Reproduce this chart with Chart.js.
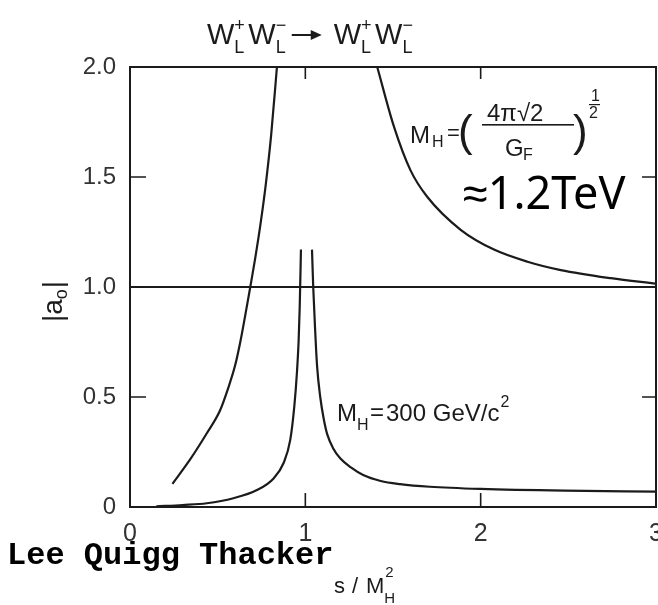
<!DOCTYPE html>
<html>
<head>
<meta charset="utf-8">
<script src="https://cdn.jsdelivr.net/npm/chart.js@4.4.1/dist/chart.umd.min.js"></script>
<style>
  html, body { margin: 0; padding: 0; background: #fff; }
  #wrap { width: 658px; height: 605px; }
</style>
</head>
<body>
<div id="wrap"><canvas id="chart" width="658" height="605"></canvas></div>
<script>
// Tick values
const xTicks = [0, 1, 2, 3];
const yTicks = [0, 0.5, 1.0, 1.5, 2.0];

// M_H = 1.2 TeV curve, below and above the pole
const bigLeftS = [0.242, 0.343, 0.438, 0.514, 0.562, 0.60, 0.629, 0.657, 0.686, 0.714, 0.745, 0.775, 0.805, 0.838];
const bigLeftA = [0.105, 0.216, 0.335, 0.44, 0.545, 0.645, 0.75, 0.87, 1.00, 1.13, 1.29, 1.47, 1.69, 2.00];
const bigRightS = [1.41, 1.505, 1.60, 1.695, 1.886, 2.076, 2.267, 2.457, 2.743, 3.0];
const bigRightA = [2.00, 1.73, 1.53, 1.41, 1.26, 1.17, 1.115, 1.077, 1.04, 1.015];

// M_H = 300 GeV curve, below and above the pole
const smallLeftS = [0.15, 0.30, 0.438, 0.59, 0.724, 0.819, 0.876, 0.914, 0.937, 0.952, 0.962, 0.968, 0.975];
const smallLeftA = [0.003, 0.009, 0.017, 0.04, 0.077, 0.13, 0.20, 0.305, 0.456, 0.61, 0.76, 0.91, 1.17];
const smallRightS = [1.038, 1.045, 1.055, 1.067, 1.085, 1.105, 1.125, 1.16, 1.20, 1.26, 1.33, 1.43, 1.54, 1.71, 2.0, 2.48, 3.0];
const smallRightA = [1.17, 1.00, 0.82, 0.64, 0.50, 0.40, 0.33, 0.265, 0.22, 0.18, 0.145, 0.118, 0.104, 0.092, 0.082, 0.074, 0.07];

// unitarity bound |a0| = 1
const boundS = [0, 3];
const boundA = [1, 1];

const INK = "#1b1b1b";
const AXIS_FONT = "'Liberation Sans', Arial, sans-serif";

function pts(xs, ys) {
    return xs.map((x, i) => ({ x: x, y: ys[i] }));
}

function curve(xs, ys) {
    return {
        data: pts(xs, ys),
        borderColor: INK,
        borderWidth: 2.2,
        pointRadius: 0,
        fill: false,
        cubicInterpolationMode: "monotone"
    };
}

const framePlugin = {
    id: "frame",
    afterDatasetsDraw(chart) {
        const ctx = chart.ctx;
        const a = chart.chartArea;
        const xs = chart.scales.x;
        const ys = chart.scales.y;
        ctx.save();
        ctx.strokeStyle = INK;
        ctx.lineWidth = 2;
        ctx.strokeRect(a.left, a.top, a.right - a.left, a.bottom - a.top);

        // inward tick marks
        ctx.lineWidth = 1.6;
        ctx.beginPath();
        xTicks.slice(1, -1).forEach(v => {
            const px = xs.getPixelForValue(v);
            ctx.moveTo(px, a.bottom); ctx.lineTo(px, a.bottom - 14);
            ctx.moveTo(px, a.top); ctx.lineTo(px, a.top + 12);
        });
        yTicks.slice(1, -1).forEach(v => {
            const py = ys.getPixelForValue(v);
            ctx.moveTo(a.left, py); ctx.lineTo(a.left + 16, py);
            ctx.moveTo(a.right, py); ctx.lineTo(a.right - 14, py);
        });
        ctx.stroke();
        ctx.restore();
    },
    afterDraw(chart) {
        const ctx = chart.ctx;
        ctx.save();
        ctx.fillStyle = INK;
        ctx.textBaseline = "alphabetic";
        ctx.textAlign = "left";

        // title: W_L^+ W_L^- -> W_L^+ W_L^-
        ctx.font = "29px " + AXIS_FONT;
        const wW = ctx.measureText("W").width;
        const drawWL = (x, y, sign) => {
            ctx.font = "29px " + AXIS_FONT;
            ctx.fillText("W", x, y);
            ctx.font = "18px " + AXIS_FONT;
            ctx.fillText(sign, x + wW, y - 13);
            ctx.fillText("L", x + wW, y + 9);
            return x + wW + 14;
        };
        let tx = 207;
        tx = drawWL(tx, 44, "+");
        tx = drawWL(tx, 44, "\u2212");
        ctx.fillRect(tx + 2, 34, 22, 2);
        ctx.beginPath();
        ctx.moveTo(tx + 32, 35); ctx.lineTo(tx + 21, 30); ctx.lineTo(tx + 21, 40); ctx.closePath();
        ctx.fill();
        tx += 44;
        tx = drawWL(tx, 44, "+");
        drawWL(tx, 44, "\u2212");

        // y axis title |a0|, rotated
        ctx.save();
        ctx.translate(62, 300);
        ctx.rotate(-Math.PI / 2);
        ctx.font = "28px " + AXIS_FONT;
        ctx.fillText("|a", -22, 0);
        const aw = ctx.measureText("|a").width;
        ctx.font = "18px " + AXIS_FONT;
        ctx.fillText("o", -22 + aw, 5);
        const ow = ctx.measureText("o").width;
        ctx.font = "28px " + AXIS_FONT;
        ctx.fillText("|", -22 + aw + ow + 1, 0);
        ctx.restore();

        // x axis title s/M_H^2
        ctx.font = "22px " + AXIS_FONT;
        ctx.fillText("s", 334, 593);
        ctx.fillText("/", 352, 593);
        ctx.fillText("M", 366, 593);
        const mw = ctx.measureText("M").width;
        ctx.font = "15px " + AXIS_FONT;
        ctx.fillText("2", 366 + mw + 1, 577);
        ctx.fillText("H", 366 + mw, 603);

        // M_H formula
        ctx.font = "24px " + AXIS_FONT;
        ctx.fillText("M", 410, 143);
        ctx.font = "16px " + AXIS_FONT;
        ctx.fillText("H", 432, 147);
        ctx.font = "22px " + AXIS_FONT;
        ctx.fillText("=", 447, 140);
        ctx.font = "44px " + AXIS_FONT;
        ctx.fillText("(", 458, 146);
        ctx.fillText(")", 573, 146);
        ctx.font = "24px " + AXIS_FONT;
        ctx.fillText("4\u03c0\u221a2", 487, 121);
        ctx.fillRect(482, 124, 92, 1.6);
        ctx.fillText("G", 505, 156);
        ctx.font = "16px " + AXIS_FONT;
        ctx.fillText("F", 523, 160);
        ctx.fillText("1", 591, 101);
        ctx.fillRect(589, 104, 11, 1.2);
        ctx.fillText("2", 589, 118);

        // 1.2 TeV note
        ctx.fillStyle = "#000";
        ctx.font = "45px 'Noto Sans', sans-serif";
        ctx.fillText("\u22481.2TeV", 463, 209);

        // M_H = 300 GeV/c^2
        ctx.fillStyle = INK;
        ctx.font = "24px " + AXIS_FONT;
        ctx.fillText("M", 337, 421);
        ctx.font = "16px " + AXIS_FONT;
        ctx.fillText("H", 357, 430);
        ctx.font = "24px " + AXIS_FONT;
        ctx.fillText("=", 370, 420);
        ctx.fillText("300 GeV/c", 386, 421);
        const cw = ctx.measureText("300 GeV/c").width;
        ctx.font = "16px " + AXIS_FONT;
        ctx.fillText("2", 386 + cw + 1, 407);

        // authors
        ctx.fillStyle = "#000";
        ctx.font = "bold 32px 'Liberation Mono', 'Courier New', monospace";
        ctx.fillText("Lee Quigg Thacker", 7, 564);
        ctx.restore();
    }
};

const ctx = document.getElementById("chart").getContext("2d");
new Chart(ctx, {
    type: "line",
    data: {
        datasets: [
            curve(bigLeftS, bigLeftA),
            curve(bigRightS, bigRightA),
            curve(smallLeftS, smallLeftA),
            curve(smallRightS, smallRightA),
            Object.assign(curve(boundS, boundA), { borderWidth: 2, cubicInterpolationMode: "default" })
        ]
    },
    options: {
        responsive: false,
        devicePixelRatio: 1,
        animation: false,
        layout: { padding: { top: 67, right: 2, left: 0, bottom: 0 } },
        plugins: { legend: { display: false }, tooltip: { enabled: false } },
        scales: {
            x: {
                type: "linear",
                min: 0,
                max: 3,
                afterBuildTicks: s => { s.ticks = xTicks.map(v => ({ value: v })); },
                afterFit: s => { s.height = 98; s.paddingLeft = 0; s.paddingRight = 0; },
                grid: { display: false, drawTicks: false },
                border: { display: false },
                ticks: {
                    color: "#333",
                    padding: 12,
                    font: { family: AXIS_FONT, size: 25 },
                    callback: v => String(v)
                }
            },
            y: {
                min: 0,
                max: 2,
                afterBuildTicks: s => { s.ticks = yTicks.map(v => ({ value: v })); },
                afterFit: s => { s.width = 130; s.paddingTop = 0; s.paddingBottom = 0; },
                grid: { display: false, drawTicks: false },
                border: { display: false },
                ticks: {
                    color: "#333",
                    padding: 14,
                    font: { family: AXIS_FONT, size: 24 },
                    callback: v => v === 0 ? "0" : v.toFixed(1)
                }
            }
        }
    },
    plugins: [framePlugin]
});
</script>
</body>
</html>
